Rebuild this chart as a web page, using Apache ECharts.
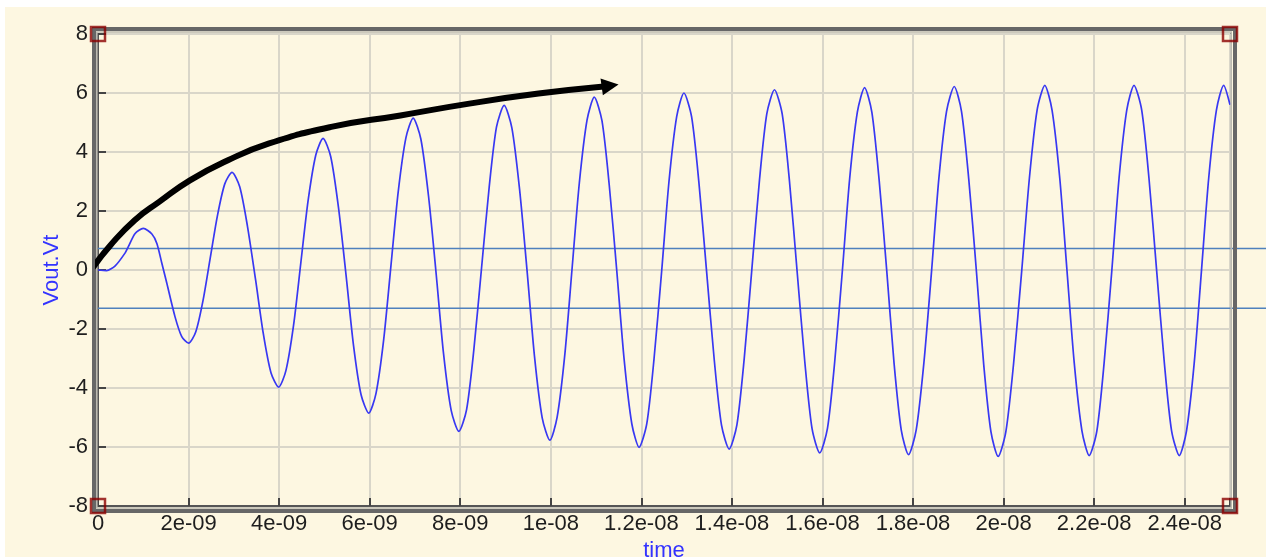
<!DOCTYPE html>
<html>
<head>
<meta charset="utf-8">
<title>Vout.Vt transient</title>
<script src="https://cdn.jsdelivr.net/npm/echarts@6/dist/echarts.min.js"></script>
<style>
  html, body { margin: 0; padding: 0; background: #ffffff; }
  #wrap { position: relative; width: 1266px; height: 560px; overflow: hidden; }
  #paper { position: absolute; left: 5px; top: 7px; right: 0; bottom: 3px; background: #fdf7e1; }
  #chart { position: absolute; left: 0; top: 0; width: 1266px; height: 560px; }
</style>
</head>
<body>
<div id="wrap"><div id="paper"></div><div id="chart"></div></div>
<script>
// Simulated output voltage, time in ns
const timeNs = [
  0.00, 0.19, 0.38, 0.60, 0.67, 0.82, 1.00, 1.19, 1.30, 1.41, 1.52, 1.70, 1.85, 2.00,
  2.16, 2.32, 2.48, 2.64, 2.80, 2.96,
  3.13, 3.30, 3.48, 3.65, 3.82, 3.99,
  4.15, 4.32, 4.48, 4.64, 4.81, 4.97,
  5.14, 5.31, 5.48, 5.64, 5.81, 5.98,
  6.14, 6.31, 6.47, 6.63, 6.80, 6.96,
  7.13, 7.30, 7.47, 7.63, 7.80, 7.97,
  8.14, 8.30, 8.47, 8.64, 8.80, 8.97,
  9.14, 9.31, 9.48, 9.64, 9.81, 9.98,
  10.14, 10.31, 10.47, 10.63, 10.80, 10.96,
  11.13, 11.29, 11.46, 11.62, 11.79, 11.95,
  12.12, 12.28, 12.45, 12.61, 12.78, 12.94,
  13.11, 13.27, 13.44, 13.61, 13.77, 13.94,
  14.11, 14.27, 14.44, 14.61, 14.77, 14.94,
  15.11, 15.27, 15.44, 15.61, 15.77, 15.94,
  16.11, 16.27, 16.44, 16.60, 16.77, 16.93,
  17.09, 17.25, 17.42, 17.58, 17.74, 17.90,
  18.07, 18.24, 18.41, 18.57, 18.74, 18.91,
  19.07, 19.23, 19.40, 19.56, 19.72, 19.88,
  20.05, 20.22, 20.40, 20.57, 20.74, 20.91,
  21.07, 21.24, 21.40, 21.56, 21.73, 21.89,
  22.06, 22.22, 22.39, 22.55, 22.72, 22.88,
  23.05, 23.21, 23.38, 23.55, 23.71, 23.88,
  24.04, 24.21, 24.37, 24.53, 24.70, 24.86,
  25.00
];
const voutVt = [
  0.00, -0.02, 0.14, 0.58, 0.79, 1.24, 1.41, 1.22, 0.90, 0.23, -0.45, -1.58, -2.26, -2.48,
  -2.09, -1.03, 0.42, 1.86, 2.92, 3.31,
  2.82, 1.49, -0.33, -2.15, -3.48, -3.97,
  -3.41, -1.86, 0.25, 2.35, 3.90, 4.46,
  3.84, 2.13, -0.20, -2.52, -4.23, -4.85,
  -4.18, -2.35, 0.15, 2.65, 4.48, 5.15,
  4.44, 2.50, -0.16, -2.82, -4.76, -5.47,
  -4.73, -2.71, 0.06, 2.82, 4.84, 5.58,
  4.82, 2.74, -0.10, -2.93, -5.01, -5.77,
  -4.99, -2.86, 0.05, 2.95, 5.08, 5.86,
  5.06, 2.89, -0.08, -3.04, -5.22, -6.01,
  -5.21, -3.01, -0.01, 3.00, 5.20, 6.00,
  5.19, 2.98, -0.04, -3.05, -5.26, -6.07,
  -5.25, -3.03, 0.02, 3.07, 5.29, 6.11,
  5.29, 3.03, -0.05, -3.12, -5.38, -6.20,
  -5.37, -3.11, -0.01, 3.09, 5.35, 6.18,
  5.35, 3.07, -0.04, -3.15, -5.43, -6.26,
  -5.42, -3.14, -0.02, 3.10, 5.38, 6.22,
  5.38, 3.09, -0.05, -3.19, -5.48, -6.32,
  -5.48, -3.18, -0.03, 3.12, 5.42, 6.26,
  5.42, 3.12, -0.02, -3.15, -5.45, -6.29,
  -5.45, -3.15, -0.02, 3.12, 5.42, 6.26,
  5.42, 3.12, -0.02, -3.15, -5.45, -6.29,
  -5.45, -3.15, -0.02, 3.12, 5.42, 6.26,
  5.60
];

// Two horizontal cursor levels (V)
const cursorLevels = [0.73, -1.30];

// Hand-drawn growth arrow over the envelope (time ns, volts)
const arrowT = [-0.10, 0.28, 0.81, 1.35, 2.03, 2.87, 3.78, 5.15, 6.68, 8.20, 9.73, 11.17];
const arrowV = [0.11, 0.85, 1.69, 2.31, 3.04, 3.72, 4.29, 4.85, 5.24, 5.64, 5.98, 6.22];
const arrowHead = [[11.17, 6.22], [11.31, 6.25]];

// Axis tick labels
const xTickLabels = ['0', '2e-09', '4e-09', '6e-09', '8e-09', '1e-08', '1.2e-08', '1.4e-08',
                     '1.6e-08', '1.8e-08', '2e-08', '2.2e-08', '2.4e-08'];
const yTickLabels = ['-8', '-6', '-4', '-2', '0', '2', '4', '6', '8'];

// Plot corner handles
const cornerT = [0, 25, 0, 25];
const cornerV = [8, 8, -8, -8];

const FONT = '"Liberation Sans", Arial, sans-serif';
const X_MIN = 0, X_MAX = 25, X_STEP = 2;
const Y_MIN = -8, Y_MAX = 8, Y_STEP = 2;

const wave = timeNs.map((t, i) => [t, voutVt[i]]);
const arrowPath = arrowT.map((t, i) => [t, arrowV[i]]);
const corners = cornerT.map((t, i) => [t, cornerV[i]]);

function xLabel(v) {
  const k = Math.round((v - X_MIN) / X_STEP);
  if (Math.abs(v - (X_MIN + k * X_STEP)) > 1e-9) return '';
  return xTickLabels[k] !== undefined ? xTickLabels[k] : '';
}
function yLabel(v) {
  const k = Math.round((v - Y_MIN) / Y_STEP);
  return yTickLabels[k] !== undefined ? yTickLabels[k] : '';
}

const chart = echarts.init(document.getElementById('chart'), null, { renderer: 'canvas' });

const cursorSeries = cursorLevels.map(level => ({
  type: 'line',
  xAxisIndex: 1,
  yAxisIndex: 1,
  data: [[0, level], [1, level]],
  symbol: 'none',
  silent: true,
  lineStyle: { color: '#4f81bd', width: 1.5 },
  z: 4
}));

chart.setOption({
  backgroundColor: 'transparent',
  animation: false,
  grid: [
    { left: 98, right: 36, top: 34, bottom: 54, show: true, outerBoundsMode: 'none',
      containLabel: false,
      borderColor: '#666666', borderWidth: 2, backgroundColor: 'transparent' },
    { left: 98, right: 0, top: 34, bottom: 54, outerBoundsMode: 'none', containLabel: false }
  ],
  xAxis: [
    {
      type: 'value', gridIndex: 0, min: X_MIN, max: X_MAX, interval: X_STEP,
      name: 'time', nameLocation: 'middle', nameGap: 34, nameMoveOverlap: false,
      nameTextStyle: { color: '#3333ff', fontSize: 22, fontFamily: FONT },
      axisLine: { show: true, onZero: false, lineStyle: { color: '#555555', width: 2 } },
      axisTick: { show: true, inside: true, length: 8, lineStyle: { color: '#444444', width: 2 } },
      axisLabel: { color: '#1e1e1e', fontSize: 22, fontFamily: FONT, margin: 7,
                   formatter: xLabel, showMinLabel: true, showMaxLabel: true, hideOverlap: false },
      splitLine: { show: true, lineStyle: { color: '#d9d6c9', width: 2 } }
    },
    { type: 'value', gridIndex: 1, min: 0, max: 1, show: false }
  ],
  yAxis: [
    {
      type: 'value', gridIndex: 0, min: Y_MIN, max: Y_MAX, interval: Y_STEP,
      name: 'Vout.Vt', nameLocation: 'middle', nameGap: 35, nameMoveOverlap: false,
      nameTextStyle: { color: '#3333ff', fontSize: 22, fontFamily: FONT },
      axisLine: { show: true, onZero: false, lineStyle: { color: '#555555', width: 2 } },
      axisTick: { show: true, inside: true, length: 8, lineStyle: { color: '#444444', width: 2 } },
      axisLabel: { color: '#1e1e1e', fontSize: 22, fontFamily: FONT, margin: 10,
                   formatter: yLabel, showMinLabel: true, showMaxLabel: true },
      splitLine: { show: true, lineStyle: { color: '#d9d6c9', width: 2 } }
    },
    { type: 'value', gridIndex: 1, min: Y_MIN, max: Y_MAX, show: false }
  ],
  graphic: [
    // bevelled plot frame
    { type: 'rect', z: 7, silent: true,
      shape: { x: 94, y: 29, width: 1141, height: 482 },
      style: { fill: 'none', stroke: '#676767', lineWidth: 4 } },
    { type: 'rect', z: 7, silent: true,
      shape: { x: 96.8, y: 32, width: 1134.4, height: 476 },
      style: { fill: 'none', stroke: '#bcbab0', lineWidth: 1.6 } }
  ],
  series: [
    ...cursorSeries,
    {
      type: 'line',
      name: 'Vout.Vt',
      data: wave,
      symbol: 'none',
      smooth: 0.25,
      lineStyle: { color: '#3838f2', width: 1.7 },
      z: 5
    },
    {
      type: 'line',
      data: arrowPath,
      symbol: 'none',
      smooth: 0.5,
      clip: false,
      silent: true,
      lineStyle: { color: '#000000', width: 6, cap: 'round' },
      z: 8
    },
    {
      type: 'lines',
      coordinateSystem: 'cartesian2d',
      data: [{ coords: arrowHead }],
      symbol: ['none', 'triangle'],
      symbolSize: 17,
      silent: true,
      lineStyle: { color: '#000000', width: 6, opacity: 1 },
      z: 8
    },
    {
      type: 'scatter',
      data: corners,
      symbol: 'rect',
      symbolSize: 14,
      clip: false,
      silent: true,
      itemStyle: { color: 'rgba(0,0,0,0)', borderColor: '#8b0000', borderWidth: 2.5 },
      z: 9
    }
  ]
});
</script>
</body>
</html>
